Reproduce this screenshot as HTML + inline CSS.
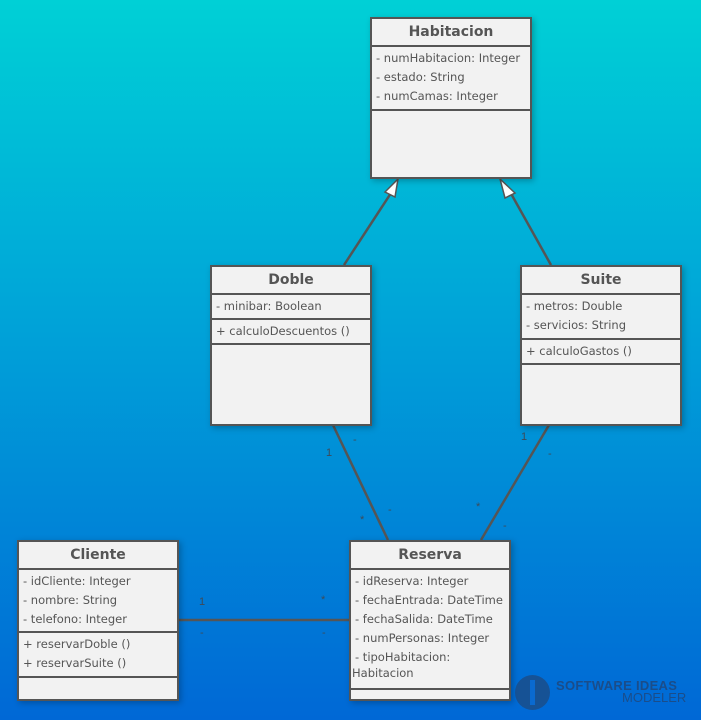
<!DOCTYPE html>
<html><head><meta charset="utf-8"><style>
*{margin:0;padding:0;box-sizing:border-box}
body{width:701px;height:720px;overflow:hidden;position:relative;background:linear-gradient(180deg,#00d0d6 0%,#00a8d8 40%,#0068d6 100%);font-family:"DejaVu Sans","Liberation Sans",sans-serif}
.c{position:absolute;background:#f2f2f2;border:2px solid #555;box-shadow:2px 2px 6px rgba(0,0,0,.25)}
.t{font-weight:bold;font-size:14px;color:#555;text-align:center;border-bottom:2px solid #555}
.s{border-bottom:2px solid #555;font-size:11.5px;color:#555;padding:2px 4px 0}
.s div{height:19px;line-height:19px;white-space:nowrap}
svg{position:absolute;left:0;top:0}
.lbl{font-family:"Liberation Sans",sans-serif;font-size:11px;fill:#3d4a58}
</style></head><body>
<svg width="701" height="720">
<g stroke="#555" stroke-width="2.5" fill="none">
<line x1="344" y1="265" x2="393" y2="190"/>
<line x1="551" y1="265" x2="509" y2="190"/>
<line x1="333" y1="425" x2="388" y2="540"/>
<line x1="549" y1="425" x2="481" y2="540"/>
<line x1="178" y1="620" x2="350" y2="620"/>
</g>
<polygon points="398,179 385,192 395,197" fill="#fff" stroke="#555" stroke-width="1.5"/>
<polygon points="500,179 515,193 505,198" fill="#fff" stroke="#555" stroke-width="1.5"/>
<text class="lbl" x="326" y="456">1</text><text class="lbl" x="353" y="443">-</text>
<text class="lbl" x="360" y="523">*</text><text class="lbl" x="388" y="513">-</text>
<text class="lbl" x="521" y="440">1</text><text class="lbl" x="548" y="457">-</text>
<text class="lbl" x="476" y="510">*</text><text class="lbl" x="503" y="529">-</text>
<text class="lbl" x="199" y="605">1</text><text class="lbl" x="200" y="636">-</text>
<text class="lbl" x="321" y="603">*</text><text class="lbl" x="322" y="636">-</text>
</svg>

<div class="c" style="left:370px;top:17px;width:162px;height:162px">
<div class="t" style="height:28px;line-height:26px">Habitacion</div>
<div class="s" style="height:64px"><div>- numHabitacion: Integer</div><div>- estado: String</div><div>- numCamas: Integer</div></div>
</div>

<div class="c" style="left:210px;top:265px;width:162px;height:161px">
<div class="t" style="height:28px;line-height:26px">Doble</div>
<div class="s" style="height:25px"><div>- minibar: Boolean</div></div>
<div class="s" style="height:25px"><div>+ calculoDescuentos ()</div></div>
</div>

<div class="c" style="left:520px;top:265px;width:162px;height:161px">
<div class="t" style="height:28px;line-height:26px">Suite</div>
<div class="s" style="height:45px"><div>- metros: Double</div><div>- servicios: String</div></div>
<div class="s" style="height:25px"><div>+ calculoGastos ()</div></div>
</div>

<div class="c" style="left:17px;top:540px;width:162px;height:161px">
<div class="t" style="height:28px;line-height:26px">Cliente</div>
<div class="s" style="height:63px"><div>- idCliente: Integer</div><div>- nombre: String</div><div>- telefono: Integer</div></div>
<div class="s" style="height:45px"><div>+ reservarDoble ()</div><div>+ reservarSuite ()</div></div>
</div>

<div class="c" style="left:349px;top:540px;width:162px;height:161px">
<div class="t" style="height:28px;line-height:26px">Reserva</div>
<div class="s" style="height:120px"><div>- idReserva: Integer</div><div>- fechaEntrada: DateTime</div><div>- fechaSalida: DateTime</div><div>- numPersonas: Integer</div><div>- tipoHabitacion:</div><div style="margin-left:-3px;margin-top:-3px">Habitacion</div></div>
</div>

<div style="position:absolute;left:515px;top:675px;width:35px;height:35px;border-radius:50%;background:#1a4d8a;opacity:.85"></div>
<div style="position:absolute;left:530px;top:680px;width:5px;height:25px;background:#0a6ad0"></div>
<div style="position:absolute;left:556px;top:678px;font:bold 13px 'Liberation Sans',sans-serif;color:#1a4d8a;letter-spacing:0.3px">SOFTWARE IDEAS</div>
<div style="position:absolute;left:622px;top:690px;font:13px 'Liberation Sans',sans-serif;color:#1a4d8a">MODELER</div>
</body></html>
